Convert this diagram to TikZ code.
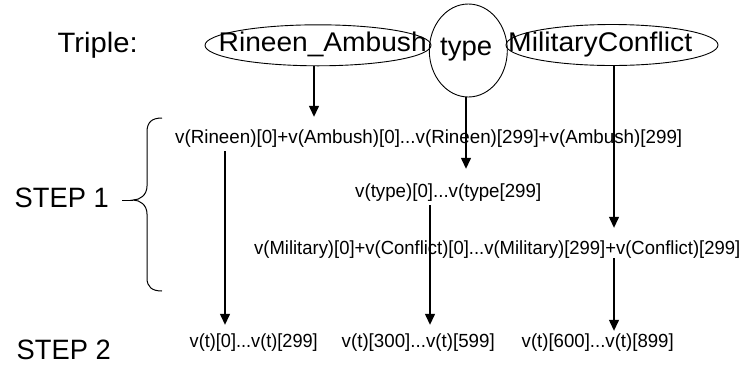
\documentclass[tikz,border=0pt]{standalone}
\usepackage{fontspec}
\usepackage{graphicx}
\setmainfont{Liberation Sans}
\usetikzlibrary{shapes.geometric,arrows.meta}
\newcommand{\fitw}[2]{\resizebox{#1pt}{\height}{#2}}
\begin{document}
\begin{tikzpicture}[x=1pt,y=-1pt,
  big/.style={font=\fontsize{27}{32}\selectfont,inner sep=0pt,anchor=base west},
  small/.style={font=\fontsize{19}{23}\selectfont,inner sep=0pt,anchor=base west,text height=14pt,text depth=4pt},
  oval/.style={ellipse,draw,line width=0.9pt,inner sep=0pt},
  arr/.style={line width=1.3pt,-{Triangle[length=11pt,width=10pt]}},
  bracepath/.style={line width=1pt}]
\useasboundingbox (0,0) rectangle (743,365);
% ellipses
\node[oval,minimum width=226pt,minimum height=41pt] (e1) at (318,45.3) {};
\node[oval,minimum width=78pt,minimum height=93pt] (e2) at (468.3,50.5) {};
\node[oval,minimum width=212pt,minimum height=41pt] (e3) at (612,45) {};
% texts in top row
\node[big,font=\fontsize{28}{32}\selectfont] (triple) at (57.5,52) {\fitw{80}{Triple:}};
\node[big] (t1) at (218.5,51) {\fitw{208}{Rineen\_Ambush}};
\node[big] (t2) at (440,55) {\fitw{52}{type}};
\node[big] (t3) at (508,51.7) {\fitw{184}{MilitaryConflict}};
% step labels
\node[big,font=\fontsize{28}{32}\selectfont] (s1) at (14.5,207) {\fitw{94}{STEP 1}};
\node[big,font=\fontsize{28}{32}\selectfont] (s2) at (16.5,359) {\fitw{94}{STEP 2}};
% step 1 lines
\node[small] (l1) at (175,143) {\fitw{507}{v(Rineen)[0]+v(Ambush)[0]...v(Rineen)[299]+v(Ambush)[299]}};
\node[small] (l2) at (355,197) {\fitw{186}{v(type)[0]...v(type[299]}};
\node[small] (l3) at (254,254) {\fitw{486}{v(Military)[0]+v(Conflict)[0]...v(Military)[299]+v(Conflict)[299]}};
% step 2 outputs
\node[small] (o1) at (189.5,347) {\fitw{128}{v(t)[0]...v(t)[299]}};
\node[small] (o2) at (341.5,347) {\fitw{153}{v(t)[300]...v(t)[599]}};
\node[small] (o3) at (521.5,347) {\fitw{152}{v(t)[600]...v(t)[899]}};
% arrows
\draw[arr] ([xshift=-4pt]e1.south) -- ([xshift=-4pt,yshift=12pt]e1.south |- l1.north);
\draw[arr] ([xshift=-2.3pt]e2.south) -- ([xshift=-2.3pt,yshift=14pt]e2.south |- l2.north);
\draw[arr] ([xshift=2pt]e3.south) -- ([xshift=2pt,yshift=12pt]e3.south |- l3.north);
\draw[arr] ([xshift=50pt,yshift=-4pt]l1.south west) -- ([xshift=35.5pt,yshift=8pt]o1.north west);
\draw[arr] ([xshift=75pt,yshift=-4pt]l2.south west) -- ([xshift=88.5pt,yshift=8pt]o2.north west);
\draw[arr] ([xshift=360pt]l3.south west) -- ([xshift=92.5pt,yshift=2pt]o3.north west);
% brace
\draw[bracepath] (162,118) .. controls (152,118) and (147,122) .. (147,132) -- (147,186)
  .. controls (147,195) and (140,200) .. (133,200)
  .. controls (140,200) and (147,205) .. (147,214) -- (147,278)
  .. controls (147,287) and (152,291) .. (162,291);
\draw[bracepath] (122,200) -- (133,200);
\end{tikzpicture}
\end{document}
